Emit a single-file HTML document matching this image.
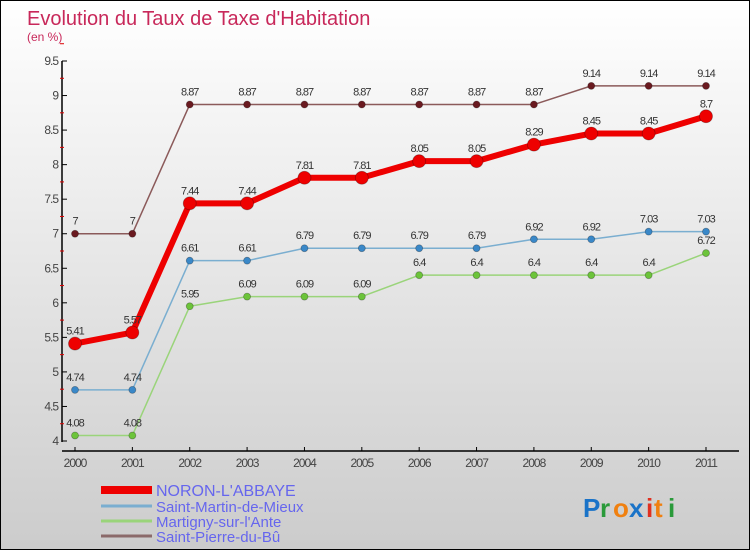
<!DOCTYPE html>
<html><head><meta charset="utf-8"><style>
body{margin:0}
#c{position:relative;width:748px;height:548px;border:1px solid #000;background:linear-gradient(#fff,#ccc);font-family:"Liberation Sans",sans-serif;overflow:hidden}
</style></head><body>
<div id="c">
<svg id="s" width="748" height="548" xmlns="http://www.w3.org/2000/svg">
<text x="26" y="24" font-size="20" fill="#c8285a">Evolution du Taux de Taxe d'Habitation</text>
<text x="26" y="40" font-size="12" fill="#c8285a">(en %)</text>
<g id="axes"></g><g id="series"></g><g id="legend"></g>
<g font-size="26" font-weight="bold" font-family="Liberation Sans,sans-serif">
<text x="582" y="516" fill="#1a73c8">P</text><text x="599" y="516" fill="#2a9a3a">r</text><text x="612" y="516" fill="#f08010">o</text><text x="628" y="516" fill="#1a73c8">x</text><text x="645" y="516" fill="#e03020">i</text><text x="653" y="516" fill="#f08010">t</text><text x="667" y="516" fill="#2a9a3a">i</text>
</g>
</svg></div>
<script>
const years=["2000","2001","2002","2003","2004","2005","2006","2007","2008","2009","2010","2011"];
const yTicks=[4,4.5,5,5.5,6,6.5,7,7.5,8,8.5,9,9.5];
const noron=[5.41,5.57,7.44,7.44,7.81,7.81,8.05,8.05,8.29,8.45,8.45,8.7];
const martin=[4.74,4.74,6.61,6.61,6.79,6.79,6.79,6.79,6.92,6.92,7.03,7.03];
const martigny=[4.08,4.08,5.95,6.09,6.09,6.09,6.4,6.4,6.4,6.4,6.4,6.72];
const pierre=[7,7,8.87,8.87,8.87,8.87,8.87,8.87,8.87,9.14,9.14,9.14];
const names=["NORON-L'ABBAYE","Saint-Martin-de-Mieux","Martigny-sur-l'Ante","Saint-Pierre-du-Bû"];
const NS="http://www.w3.org/2000/svg";
const X=i=>74+i*(631/11);
const Y=v=>440-(v-4)*(380/5.5);
function mk(t,a,p){const e=document.createElementNS(NS,t);for(const k in a)e.setAttribute(k,a[k]);p.appendChild(e);return e;}
const ax=document.getElementById('axes');
let e=mk('line',{x1:61,y1:60,x2:61,y2:441,stroke:'#000','stroke-width':1.5},ax);

e=mk('line',{x1:61,y1:450,x2:738,y2:450,stroke:'#000','stroke-width':1.5},ax);

yTicks.forEach(v=>{
 mk('line',{x1:61,y1:Y(v),x2:66,y2:Y(v),stroke:'#000'},ax);
 mk('line',{x1:59,y1:Y(v+0.25),x2:63,y2:Y(v+0.25),stroke:'#d00'},ax);
 const t=mk('text',{x:57,y:Y(v)+4,'font-size':12,fill:'#444','text-anchor':'end','letter-spacing':'-1'},ax);t.textContent=String(v);
 
});
years.forEach((y,i)=>{
 mk('line',{x1:X(i),y1:446,x2:X(i),y2:450,stroke:'#000'},ax);
 const t=mk('text',{x:X(i),y:466,'font-size':12,fill:'#444','text-anchor':'middle','letter-spacing':'-1'},ax);t.textContent=y;
 
});
const sg=document.getElementById('series');
function series(d,col,dot,w,r,name){
 const g=mk('g',{},sg);
 
 mk('polyline',{points:d.map((v,i)=>X(i)+','+Y(v)).join(' '),fill:'none',stroke:col,'stroke-width':w,'stroke-linejoin':'round'},g);
 d.forEach((v,i)=>{
  const c=mk('circle',{cx:X(i),cy:Y(v),r:r,fill:dot,stroke:'rgba(0,0,0,0.3)','stroke-width':0.8},g);
  
  const t=mk('text',{x:X(i),y:Y(v)-9,'font-size':11,fill:'#333','text-anchor':'middle','letter-spacing':'-1'},g);t.textContent=String(v);
  
 });
}
series(pierre,'#8b5a5a','#6a1a20',1.5,3.5,'series-saint-pierre-du-bu');
series(martigny,'#9ad47a','#6cc43a',1.5,3.5,'series-martigny-sur-l-ante');
series(martin,'#7aaed0','#3a88c8',1.5,3.5,'series-saint-martin-de-mieux');
series(noron,'#ee0000','#ee0000',6,6.5,'series-noron-l-abbaye');
const lg=document.getElementById('legend');
const lc=['#ee0000','#7aaed0','#9ad47a','#8b6a6a'],lw=[8,3,3,3],ly=[492,508,523,538];
names.forEach((n,i)=>{
 const g=mk('g',{},lg);
 
 mk('line',{x1:100,y1:ly[i]-3,x2:151,y2:ly[i]-3,stroke:lc[i],'stroke-width':lw[i]},g);
 const t=mk('text',{x:155,y:ly[i]+3,'font-size':i==0?16:15,fill:'#6666ee'},g);t.textContent=n;
});
</script>
</body></html>
